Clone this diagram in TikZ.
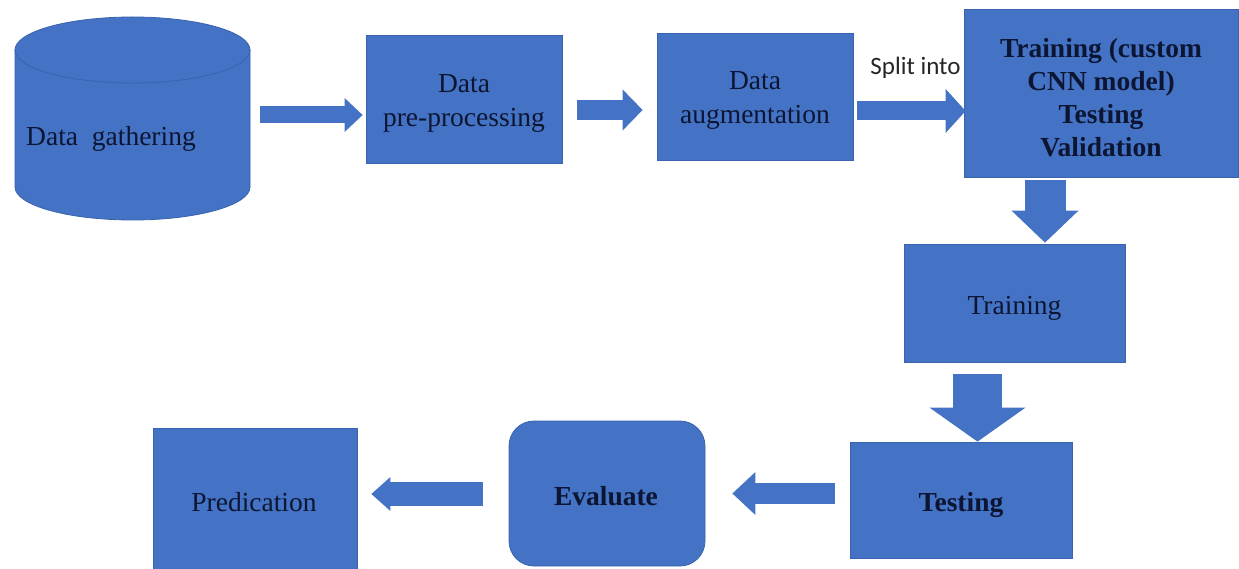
\documentclass[tikz,border=0pt]{standalone}
\usepackage{fontspec}
\setmainfont{Liberation Serif}
\newfontfamily\labelsans{Carlito}
\usetikzlibrary{arrows.meta,calc}
\definecolor{boxblue}{HTML}{4472C4}
\definecolor{edgeblue}{HTML}{3A63AE}
\definecolor{inkblue}{HTML}{0C1633}
\tikzset{
  flowbox/.style={fill=boxblue, draw=edgeblue, line width=0.8pt, inner sep=0pt},
  boxtext/.style={text=inkblue, align=center, inner sep=0pt, font=\fontsize{27.5}{34}\selectfont},
  boldtext/.style={boxtext, font=\fontsize{27.5}{33}\selectfont\bfseries},
  blockarrow/.style n args={3}{draw=boxblue, line width=#1pt,
    -{Triangle[width=#2pt,length=#3pt,line width=0pt]}},
}
\begin{document}
\begin{tikzpicture}[x=1pt, y=-1pt]
  \useasboundingbox[fill=white] (0,0) rectangle (1239,569);

  % database cylinder
  \filldraw[fill=boxblue, draw=edgeblue, line width=0.8pt]
    (15,50) -- (15,187)
    .. controls (15,205.2) and (67.6,220) .. (132.5,220)
    .. controls (197.4,220) and (250,205.2) .. (250,187)
    -- (250,50) -- cycle;
  \filldraw[fill=boxblue, draw=edgeblue, line width=0.8pt]
    (132.5,50) ellipse [x radius=117.5, y radius=33];
  \node[inner sep=0pt, minimum width=235pt, minimum height=203pt] (gather) at (132.5,118.5) {};
  \node[boxtext] (gathertxt) at (111,139) {Data~~gathering};

  % process boxes
  \node[flowbox, minimum width=196pt, minimum height=128pt] (pre) at (464,99) {};
  \node[flowbox, minimum width=196pt, minimum height=127pt] (aug) at (755,96.5) {};
  \node[flowbox, minimum width=274pt, minimum height=168pt] (split) at (1101,93) {};
  \node[flowbox, minimum width=221pt, minimum height=118pt] (train) at (1014.5,303) {};
  \node[flowbox, minimum width=222pt, minimum height=116pt] (test) at (961,500) {};
  \node[flowbox, rounded corners=25pt, minimum width=196pt, minimum height=145pt] (eval) at (607,493.5) {};
  \node[flowbox, minimum width=204pt, minimum height=141pt] (pred) at (255,498.5) {};

  % box captions
  \node[boxtext] (pretxt) at ($(pre)+(0,4)$) {Data\\pre-processing};
  \node[boxtext] (augtxt) at ($(aug)+(0,3.5)$) {Data\\augmentation};
  \node[boldtext] (splittxt) at ($(split)+(0,5)$) {Training (custom\\CNN model)\\Testing\\Validation};
  \node[boxtext] (traintxt) at ($(train)+(0,5)$) {Training};
  \node[boldtext] (testtxt) at ($(test)+(0,5)$) {Testing};
  \node[boldtext] (evaltxt) at ($(eval)+(-1,2.5)$) {Evaluate};
  \node[boxtext] (predtxt) at ($(pred)+(-1,4)$) {Predication};

  % block arrows between the steps
  \draw[blockarrow={17}{34}{18}] ($(gather.east)+(10,-3.5)$) -- ($(pre.west)+(-3,16)$);
  \draw[blockarrow={20}{41}{20}] ($(pre.east)+(15,11)$) -- ($(aug.west)+(-14,13.5)$);
  \draw[blockarrow={19}{44}{20}] ($(aug.east)+(4,14.5)$) -- ($(split.west)+(2,18)$);
  \node[font=\labelsans\fontsize{25}{30}\selectfont, text=black!85] (splitlbl) at (915.5,68) {Split into};
  \draw[blockarrow={41}{67}{32}] ($(split.south)+(-56,3)$) -- ($(train.north)+(30.5,-1)$);
  \draw[blockarrow={49}{96}{34}] ($(train.south)+(-37,12)$) -- ($(test.north)+(16.5,0)$);
  \draw[blockarrow={21}{43}{23}] ($(test.west)+(-15,-6.5)$) -- ($(eval.east)+(27,0)$);
  \draw[blockarrow={24}{34}{19}] ($(eval.west)+(-26,0.5)$) -- ($(pred.east)+(14,-4.5)$);
\end{tikzpicture}
\end{document}
